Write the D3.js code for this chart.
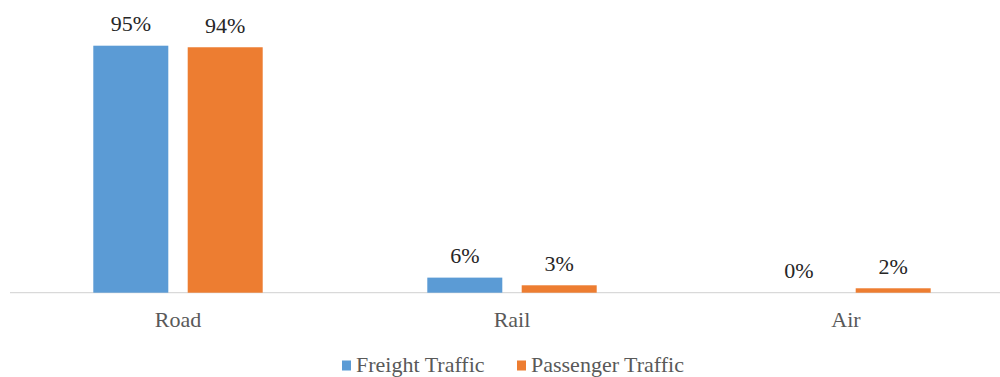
<!DOCTYPE html>
<html>
<head>
<meta charset="utf-8">
<script src="https://cdn.jsdelivr.net/npm/d3@7"></script>
</head>
<body style="margin:0">
<svg id="c" width="1000" height="377" style="font-family: 'Liberation Serif', 'Times New Roman', serif; display:block"></svg>
<script>
const categories = ["Road", "Rail", "Air"];
const seriesNames = ["Freight Traffic", "Passenger Traffic"];
const freightValues = [95, 5.8, 0];
const passengerValues = [94.4, 2.85, 1.7];
const freightLabels = ["95%", "6%", "0%"];
const passengerLabels = ["94%", "3%", "2%"];
const colors = ["#5B9BD5", "#ED7D31"];

const series = [
  { name: seriesNames[0], values: freightValues, labels: freightLabels, color: colors[0] },
  { name: seriesNames[1], values: passengerValues, labels: passengerLabels, color: colors[1] }
];

const svg = d3.select("#c");
const baseY = 292.7;

const x0 = d3.scaleBand().domain(categories).range([11, 1013]).paddingInner(0).paddingOuter(0);
const x1 = d3.scaleBand().domain(seriesNames).range([0, 169.4]).paddingInner(0.2055);
const groupOffset = (x0.bandwidth() - 169.4) / 2;
const y = d3.scaleLinear().domain([0, 95]).range([baseY, 45.7]);

svg.append("line")
  .attr("x1", 10).attr("x2", 1000)
  .attr("y1", baseY).attr("y2", baseY)
  .attr("stroke", "#D9D9D9").attr("stroke-width", 1.3);

const groups = svg.selectAll("g.cat")
  .data(categories)
  .enter().append("g")
  .attr("transform", d => `translate(${x0(d) + groupOffset},0)`);

series.forEach(s => {
  groups.append("rect")
    .attr("x", x1(s.name))
    .attr("width", x1.bandwidth())
    .attr("y", (d, i) => y(s.values[i]))
    .attr("height", (d, i) => baseY - y(s.values[i]))
    .attr("fill", s.color);

  groups.append("text")
    .attr("x", x1(s.name) + x1.bandwidth() / 2)
    .attr("y", (d, i) => y(s.values[i]) - 14.5)
    .attr("text-anchor", "middle")
    .style("font-size", "22px")
    .style("fill", "#262626")
    .text((d, i) => s.labels[i]);
});

svg.selectAll("text.catlabel")
  .data(categories)
  .enter().append("text")
  .attr("class", "catlabel")
  .attr("x", d => x0(d) + x0.bandwidth() / 2)
  .attr("y", 326.7)
  .attr("text-anchor", "middle")
  .style("font-size", "22px")
  .style("fill", "#595959")
  .text(d => d);

const legendX = [342, 517];
const lg = svg.selectAll("g.legend")
  .data(series)
  .enter().append("g")
  .attr("class", "legend")
  .attr("transform", (d, i) => `translate(${legendX[i]},0)`);
lg.append("rect")
  .attr("x", 0).attr("y", 360.5)
  .attr("width", 9).attr("height", 10)
  .attr("fill", d => d.color);
lg.append("text")
  .attr("x", 14).attr("y", 372.3)
  .style("font-size", "22px")
  .style("fill", "#595959")
  .text(d => d.name);
</script>
</body>
</html>
